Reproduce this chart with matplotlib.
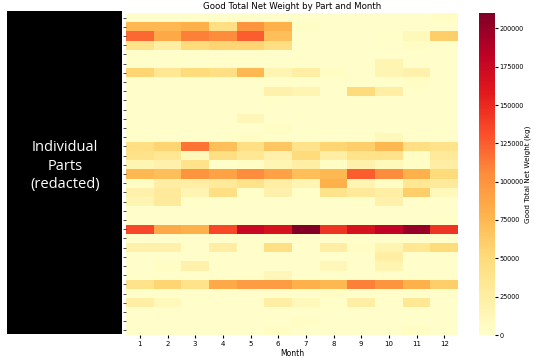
import matplotlib
matplotlib.use("Agg")
import matplotlib.pyplot as plt
import numpy as np
import seaborn as sns

months = [1, 2, 3, 4, 5, 6, 7, 8, 9, 10, 11, 12]
parts = [f"Part {i:02d}" for i in range(1, 36)]

# Good total net weight (kg), one list per part, months 1..12
net_weight = [
    [1000, 1000, 1000, 1000, 1000, 1000, 1000, 1000, 1000, 1000, 1500, 5000],
    [75000, 75000, 80000, 45000, 100000, 80000, 4000, 1000, 1000, 1000, 1000, 1000],
    [120000, 85000, 110000, 105000, 125000, 70000, 1000, 1000, 1000, 3000, 10000, 60000],
    [40000, 25000, 50000, 55000, 55000, 45000, 1000, 1000, 1000, 1000, 5000, 1000],
    [1000, 1000, 1000, 1000, 1000, 1000, 1000, 1000, 1000, 1000, 1000, 1000],
    [1000, 1000, 1000, 1000, 1000, 1000, 1000, 1000, 1000, 15000, 1000, 1000],
    [55000, 35000, 50000, 45000, 75000, 15000, 25000, 5000, 1000, 15000, 20000, 1000],
    [1000, 1000, 1000, 1000, 1000, 1000, 1000, 1000, 1000, 1000, 5000, 1000],
    [1000, 1000, 1000, 1000, 1000, 20000, 15000, 1000, 50000, 25000, 1000, 1000],
    [1000, 1000, 1000, 1000, 1000, 3000, 1000, 1000, 1000, 1000, 1000, 1000],
    [1000, 1000, 1000, 1000, 1000, 1000, 1000, 1000, 1000, 1000, 1000, 1000],
    [1000, 1000, 1000, 1000, 12000, 1000, 1000, 1000, 1000, 1000, 1000, 1000],
    [1000, 1000, 1000, 1000, 1000, 5000, 1000, 1000, 1000, 1000, 1000, 1000],
    [3000, 1000, 1000, 3000, 5000, 1000, 1000, 1000, 1000, 10000, 1000, 1000],
    [45000, 55000, 115000, 70000, 45000, 65000, 40000, 55000, 60000, 75000, 45000, 40000],
    [40000, 35000, 10000, 45000, 35000, 20000, 50000, 25000, 40000, 40000, 5000, 30000],
    [15000, 20000, 40000, 3000, 5000, 15000, 25000, 5000, 20000, 10000, 5000, 25000],
    [75000, 70000, 100000, 90000, 105000, 90000, 70000, 75000, 125000, 105000, 80000, 50000],
    [5000, 25000, 25000, 30000, 40000, 25000, 15000, 80000, 15000, 5000, 35000, 30000],
    [20000, 30000, 15000, 45000, 3000, 20000, 3000, 40000, 30000, 25000, 60000, 10000],
    [15000, 30000, 2000, 1000, 1000, 1000, 1000, 1000, 2000, 20000, 1000, 1000],
    [1000, 1000, 1000, 1000, 1000, 1000, 1000, 1000, 1000, 1000, 1000, 1000],
    [1000, 1000, 1000, 1000, 1000, 1000, 1000, 1000, 1000, 1000, 1000, 3000],
    [135000, 85000, 80000, 135000, 175000, 165000, 209000, 145000, 165000, 180000, 200000, 145000],
    [1000, 1000, 1000, 1000, 1000, 1000, 1000, 1000, 1000, 1000, 1000, 1000],
    [20000, 20000, 1000, 25000, 1000, 45000, 1000, 25000, 5000, 15000, 35000, 50000],
    [1000, 1000, 1000, 1000, 1000, 1000, 1000, 1000, 1000, 25000, 1000, 1000],
    [1000, 5000, 20000, 1000, 1000, 1000, 1000, 12000, 1000, 15000, 1000, 1000],
    [1000, 1000, 1000, 1000, 3000, 12000, 1000, 1000, 1000, 1000, 1000, 1000],
    [40000, 55000, 40000, 85000, 95000, 95000, 80000, 75000, 110000, 100000, 80000, 60000],
    [1000, 1000, 1000, 1000, 1000, 1000, 1000, 5000, 1000, 1000, 1000, 1000],
    [25000, 10000, 1000, 1000, 1000, 25000, 10000, 3000, 25000, 1000, 35000, 1000],
    [1000, 1000, 1000, 1000, 1000, 1000, 1000, 1000, 1000, 1000, 1000, 1000],
    [1000, 1000, 1000, 1000, 1000, 1000, 5000, 1000, 1000, 1000, 1000, 1000],
    [1000, 1000, 1000, 1000, 1000, 5000, 1000, 1000, 1000, 1000, 5000, 1000],
]

W, H = 534, 358
fig = plt.figure(figsize=(W / 100, H / 100), dpi=100)
ax = fig.add_axes([126 / W, 1 - 335 / H, (458 - 126) / W, (335 - 13) / H])
cax = fig.add_axes([479 / W, 1 - 335 / H, (495 - 479) / W, (335 - 13) / H])

data = np.array(net_weight, dtype=float)
sns.heatmap(data, ax=ax, cbar_ax=cax, cmap="YlOrRd", vmin=0, vmax=210000,
            xticklabels=months, yticklabels=[""] * len(parts),
            cbar_kws={"label": "Good Total Net Weight (kg)"})

ax.set_title("Good Total Net Weight by Part and Month", fontsize=6.2, pad=3)
ax.set_xlabel("Month", fontsize=5.5, labelpad=2)
ax.set_ylabel("Part", fontsize=5.5)
ax.tick_params(axis="x", labelsize=5, length=2, pad=2, rotation=0)
ax.tick_params(axis="y", length=2, width=0.5, pad=1)

cax.tick_params(labelsize=4.7, length=2, pad=1)
cax.set_yticks([0, 25000, 50000, 75000, 100000, 125000, 150000, 175000, 200000])
cax.set_yticklabels(["0", "25000", "50000", "75000", "100000", "125000",
                     "150000", "175000", "200000"])
cax.yaxis.label.set_size(5.2)
cax.yaxis.labelpad = 1

# Redaction box
box = plt.Rectangle((7 / W, 1 - 334 / H), (122 - 7) / W, (334 - 11) / H,
                    transform=fig.transFigure, facecolor="black",
                    edgecolor="none", zorder=10)
fig.add_artist(box)
fig.text(65 / W, 1 - 166 / H, "Individual\nParts\n(redacted)", color="white",
         ha="center", va="center", fontsize=10.5, family="Open Sans",
         linespacing=1.35, zorder=11)

fig.savefig("out.png", dpi=100)
